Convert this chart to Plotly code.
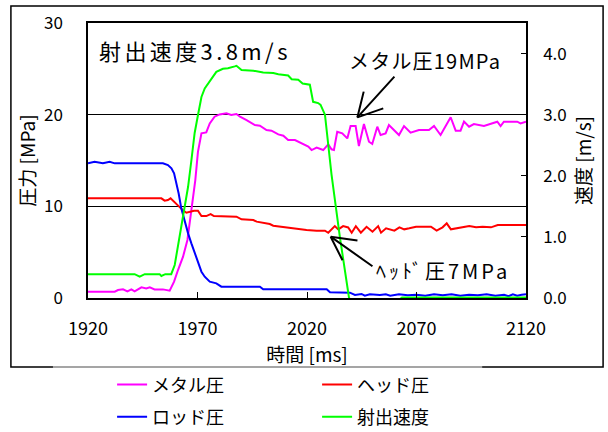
import plotly.graph_objects as go

# ---- data -------------------------------------------------------------
# ロッド圧 [MPa]
rod_t = [1920, 1923, 1926.8, 1929.9, 1932.2, 1954.2, 1956.5, 1958.1, 1959.3, 1960.3,
         1961.4, 1962.6, 1964.1, 1965.7, 1967.2, 1968.7, 1970.2, 1971.8, 1973.3, 1975.6,
         1978.6, 1980.9, 1998.5, 2000, 2029, 2030.5, 2039.6, 2041.9, 2044.9, 2046.4,
         2048.7, 2053.3, 2056, 2058, 2062, 2066, 2070, 2074, 2078, 2082, 2086, 2090,
         2094, 2098, 2102, 2106, 2110, 2112, 2114, 2116, 2118, 2120]
rod_p = [14.69, 14.87, 14.69, 14.87, 14.69, 14.69, 14.5, 14.14, 13.6, 12.69,
         11.4, 9.78, 8.33, 7.05, 5.96, 4.87, 3.96, 2.87, 2.32, 1.78,
         1.6, 1.24, 1.24, 0.95, 0.95, 0.62, 0.58, 0.33, 0.44, 0.25,
         0.4, 0.33, 0.4, 0.25, 0.4, 0.3, 0.35, 0.25, 0.4, 0.3, 0.4, 0.25,
         0.35, 0.3, 0.4, 0.25, 0.35, 0.2, 0.4, 0.25, 0.35, 0.4]

# ヘッド圧 [MPa]
head_t = [1920, 1953.5, 1955, 1956.5, 1957.7, 1959.3, 1961.1, 1962.9, 1964.9, 1966.4,
          1968.4, 1970.2, 1971.8, 1974, 1976, 1977.5, 1985.4, 1987.8, 1990.1, 1995.5,
          1997, 2003, 2004.6, 2010.7, 2015.2, 2019.8, 2024.4, 2028.2, 2029.7, 2031.2,
          2032.7, 2034.3, 2036.5, 2038.8, 2040.4, 2042.3, 2044.6, 2047.2, 2049.9, 2052.5,
          2053.8, 2056.1, 2057.6, 2059.9, 2062.2, 2064.4, 2066.7, 2069.8, 2076.6, 2079.2,
          2081.9, 2083.8, 2085.7, 2088, 2091.1, 2094.1, 2097.2, 2100.2, 2104, 2107.1, 2120]
head_p = [10.87, 10.87, 10.62, 10.69, 10.87, 10.5, 10.03, 9.67, 9.3, 9.41,
          9.52, 9.52, 8.94, 8.94, 9.16, 8.94, 8.94, 8.87, 8.58, 8.5,
          8.33, 8.07, 7.89, 7.7, 7.48, 7.41, 7.34, 7.34, 7.12, 7.48,
          7.84, 7.48, 7.84, 7.7, 7.12, 7.84, 7.12, 7.77, 7.23, 7.84,
          7.13, 7.6, 7.49, 7.35, 7.71, 7.49, 7.6, 7.78, 7.78, 7.35,
          7.71, 8.14, 7.49, 7.6, 7.78, 7.85, 7.71, 7.78, 7.71, 7.96, 7.96]

# メタル圧 [MPa]
metal_t = [1920, 1932.2, 1933.7, 1936, 1938, 1939.8, 1941.3, 1944.4, 1946.6, 1948.2,
           1950.4, 1954.2, 1957.3, 1959.3, 1961.1, 1963.4, 1965.4, 1967.2, 1969, 1970.2,
           1971.8, 1974, 1975.6, 1977.8, 1980.1, 1983.2, 1985.4, 1987.8, 1989.4, 1992.4,
           1996.2, 1998.5, 2001.5, 2003.8, 2006.9, 2009.2, 2011.4, 2014.5, 2016.8, 2020.6,
           2022.1, 2024.4, 2027.4, 2029.7, 2031.2, 2032.3, 2033.8, 2036.1, 2038.4, 2039.9,
           2042.2, 2043.7, 2046, 2048.3, 2049.8, 2052.1, 2053.6, 2055.9, 2057.4, 2059.7,
           2062, 2064.3, 2067.3, 2071.1, 2075.7, 2078, 2081, 2085.6, 2087.9, 2090.1,
           2091.7, 2094, 2096.2, 2100.8, 2105.4, 2106.9, 2108.4, 2109.9, 2116, 2117.5, 2120]
metal_p = [0.69, 0.69, 0.87, 0.94, 0.72, 0.94, 0.72, 1.16, 1.05, 1.16,
           0.94, 0.94, 0.8, 1.78, 3.05, 4.51, 6.33, 9.6, 12.87, 15.95,
           17.96, 18.07, 19.05, 19.78, 20.03, 20.14, 19.96, 20.07, 19.78, 19.41,
           18.87, 18.8, 18.33, 18.25, 17.85, 17.7, 17.23, 17.23, 16.98, 16.51,
           16.14, 16.4, 16.14, 16.76, 16.22, 16.14, 18.14, 17.96, 17.41, 18.76,
           18.76, 16.58, 18.98, 17.05, 16.8, 18.69, 17.78, 17.96, 18.87, 18.32,
           17.78, 18.76, 18.03, 18.32, 18.32, 18.76, 17.78, 19.72, 18.25, 18.25,
           19.25, 18.69, 18.98, 18.76, 19.12, 19.23, 18.76, 19.23, 19.23, 19.05, 19.23]

# 射出速度 [m/s]
speed_t = [1920, 1941.3, 1943.6, 1945.9, 1952.7, 1953.5, 1955.3, 1958, 1959.6, 1961.1,
           1962.6, 1964.1, 1965.7, 1967.2, 1968.7, 1970.2, 1971.8, 1973.3, 1975.6, 1978.6,
           1981.6, 1983.9, 1987, 1987.8, 1990.1, 1995.5, 2000, 2004.6, 2006.9, 2011.4,
           2013, 2016, 2018, 2021.3, 2022.8, 2025.1, 2026.2, 2028.2, 2031.2, 2035,
           2039.2, 2040, 2062, 2063.4, 2120]
speed_v = [0.39, 0.39, 0.35, 0.39, 0.39, 0.36, 0.39, 0.39, 0.54, 0.84,
           1.17, 1.5, 1.82, 2.25, 2.7, 2.99, 3.29, 3.43, 3.54, 3.7,
           3.75, 3.76, 3.79, 3.8, 3.73, 3.72, 3.69, 3.68, 3.66, 3.64,
           3.58, 3.57, 3.51, 3.49, 3.21, 3.19, 3.16, 3.0, 2.02, 1.0,
           0.0, -0.03, -0.03, 0.01, 0.01]

x_ticks = [1920, 1970, 2020, 2070, 2120]
p_ticks = [0, 10, 20, 30]
v_ticks = [0, 1, 2, 3, 4]
v_tick_text = ["0.0", "1.0", "2.0", "3.0", "4.0"]

FONT = "Noto Sans CJK JP"

fig = go.Figure()
fig.add_trace(go.Scatter(x=metal_t, y=metal_p, name="メタル圧", mode="lines",
                         line=dict(color="#FF00FF", width=2), legend="legend"))
fig.add_trace(go.Scatter(x=head_t, y=head_p, name="ヘッド圧", mode="lines",
                         line=dict(color="#FF0000", width=2), legend="legend"))
fig.add_trace(go.Scatter(x=rod_t, y=rod_p, name="ロッド圧", mode="lines",
                         line=dict(color="#0000FF", width=2), legend="legend2"))
fig.add_trace(go.Scatter(x=speed_t, y=speed_v, name="射出速度", mode="lines",
                         line=dict(color="#00FF00", width=2), yaxis="y2", legend="legend2"))

legend_style = dict(orientation="h", xanchor="left", yanchor="middle",
                    entrywidth=160, bgcolor="rgba(0,0,0,0)", borderwidth=0,
                    font=dict(family=FONT, size=18, color="black"))

fig.update_layout(
    width=608, height=432,
    margin=dict(l=88, r=82, t=23, b=134, autoexpand=False),
    paper_bgcolor="white", plot_bgcolor="white",
    font=dict(family=FONT, size=17, color="black"),
    showlegend=True,
    legend=dict(x=0.055, y=-0.316, **legend_style),
    legend2=dict(x=0.055, y=-0.433, **legend_style),
    xaxis=dict(range=[1920, 2120], tickvals=x_ticks, ticks="inside", ticklen=6,
               tickcolor="black", tickwidth=1, showline=True, linecolor="black",
               linewidth=1.5, mirror=True, showgrid=False, zeroline=False,
               ticklabelstandoff=14, tickfont=dict(size=18),
               title=dict(text="時間 [ms]", font=dict(size=19), standoff=0)),
    yaxis=dict(range=[0, 30], tickvals=p_ticks, ticks="", showline=True,
               linecolor="black", linewidth=1.5, showgrid=True, gridcolor="black",
               gridwidth=1, zeroline=False, ticklabelstandoff=20,
               title=dict(text="圧力 [MPa]", font=dict(size=19), standoff=3)),
    yaxis2=dict(range=[0, 4.5], tickvals=v_ticks, ticktext=v_tick_text,
                overlaying="y", side="right", ticks="inside", ticklen=5,
                tickcolor="black", showline=True, linecolor="black", linewidth=1.5,
                showgrid=False, zeroline=False, ticklabelstandoff=12,
                title=dict(text="速度 [m/s]", font=dict(size=19), standoff=12)),
)

# outer frame around the chart
fig.add_shape(type="rect", xref="paper", yref="paper",
              x0=-0.176, x1=1.176, y0=-0.251, y1=1.062,
              line=dict(color="black", width=1.5), fillcolor="rgba(0,0,0,0)", layer="below")
fig.add_shape(type="line", xref="paper", yref="paper",
              x0=-0.08, x1=0.9, y0=-0.251, y1=-0.251,
              line=dict(color="#c8c8c8", width=1.5))

# labels inside the plot (left-aligned so extra letter spacing grows rightwards)
fig.add_annotation(text="射出速度3.8m/s", xref="paper", yref="paper", x=0.02, y=0.902,
                   xanchor="left", yanchor="middle", align="left", showarrow=False,
                   font=dict(size=22, family=FONT), name="speed_label")
fig.add_annotation(text="メタル圧19MPa", xref="paper", yref="paper", x=0.592, y=0.865,
                   xanchor="left", yanchor="middle", align="left", showarrow=False,
                   font=dict(size=20, family=FONT), name="metal_label")
fig.add_annotation(text="ﾍｯﾄﾞ圧7MPa", xref="paper", yref="paper", x=0.653, y=0.1,
                   xanchor="left", yanchor="middle", align="left", showarrow=False,
                   font=dict(size=20, family=FONT), name="head_label")

# open arrows: shaft + two head strokes, all anchored at the tip
arrow_tips = [(2043.0, 19.7), (2030.8, 6.69)]
arrow_strokes = [
    [(38.4, -42.3), (6.7, -27.3), (27.4, -9.6)],
    [(43.3, 30.6), (28.3, 4.0), (12.6, 25.0)],
]
for (tx, ty), strokes in zip(arrow_tips, arrow_strokes):
    for ax, ay in strokes:
        fig.add_annotation(x=tx, y=ty, xref="x", yref="y", text="", showarrow=True,
                           ax=ax, ay=ay, arrowhead=0, arrowwidth=2,
                           arrowcolor="black", standoff=0, startstandoff=0)

# wider character spacing for the in-plot labels
spacing_js = """
var spacing = {'射出速度3.8m/s': '3.4px', 'メタル圧19MPa': '1.2px', 'ﾍｯﾄﾞ圧7MPa': '3px'};
document.querySelectorAll('text.annotation-text').forEach(function (t) {
    var s = spacing[t.textContent];
    if (s) { t.style.letterSpacing = s; }
});
"""

fig.write_html("out.html", post_script=spacing_js)
